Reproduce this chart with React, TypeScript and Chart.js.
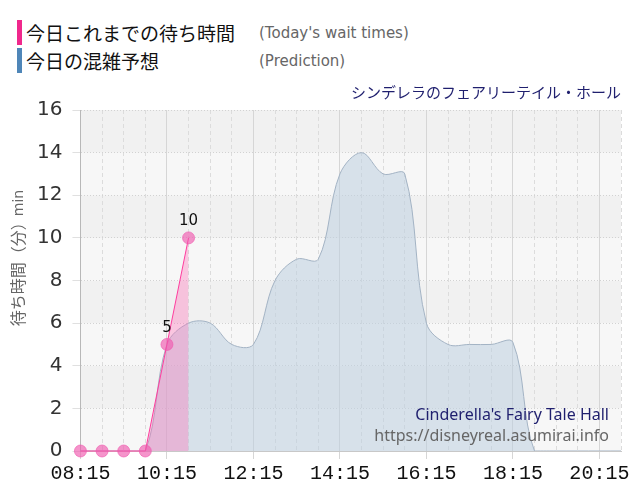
import { useEffect, useRef } from 'react';
import Chart from 'chart.js/auto';

// minutes from midnight
const todayTimes = [495, 525, 555, 585, 615, 645];
const todayWait = [0, 0, 0, 0, 5, 10];

const predTimes = [
  495, 525, 555, 585, 615, 645, 675, 705, 735, 765, 795, 825, 855,
  885, 915, 945, 975, 1005, 1035, 1065, 1095, 1125, 1155, 1185, 1215, 1245,
];
const predWait = [0, 0, 0, 0, 5, 6, 6, 5, 5, 8, 9, 9, 13, 14, 13, 13, 6, 5, 5, 5, 5.1, 0, 0, 0, 0, 0];

const yTicks = [0, 2, 4, 6, 8, 10, 12, 14, 16];

const X_MIN = 495;
const X_MAX = 1245;

const fmt = (m: number) => {
  const h = Math.floor(m / 60);
  const mm = m % 60;
  return String(h).padStart(2, '0') + ':' + String(mm).padStart(2, '0');
};

const bandsPlugin = {
  id: 'bands',
  beforeDraw(chart: any) {
    const { ctx, chartArea, scales } = chart;
    const y = scales.y;
    ctx.save();
    for (let i = 0; i < yTicks.length - 1; i++) {
      const top = y.getPixelForValue(yTicks[i + 1]);
      const bottom = y.getPixelForValue(yTicks[i]);
      ctx.fillStyle = i % 2 === 0 ? '#f7f7f7' : '#f1f1f1';
      ctx.fillRect(chartArea.left, top, chartArea.right - chartArea.left, bottom - top);
    }
    ctx.restore();
  },
};

// y axis title: Japanese part bigger, "min" smaller
const yTitlePlugin = {
  id: 'yTitle',
  afterDraw(chart: any) {
    const { ctx } = chart;
    ctx.save();
    ctx.translate(18, 257);
    ctx.rotate(-Math.PI / 2);
    ctx.textBaseline = 'middle';
    ctx.fillStyle = '#666';
    const main = '待ち時間（分）';
    const unit = 'min';
    ctx.font = '16px "Noto Sans CJK JP"';
    const w1 = ctx.measureText(main).width;
    ctx.font = '14px "DejaVu Sans"';
    const w2 = ctx.measureText(unit).width;
    const start = -(w1 + w2) / 2;
    ctx.textAlign = 'left';
    ctx.font = '16px "Noto Sans CJK JP"';
    ctx.fillText(main, start, 0);
    ctx.font = '14px "DejaVu Sans"';
    ctx.fillText(unit, start + w1 - 2, 1);
    ctx.restore();
  },
};

const labelsPlugin = {
  id: 'pointLabels',
  afterDatasetsDraw(chart: any) {
    const { ctx } = chart;
    const meta = chart.getDatasetMeta(0);
    ctx.save();
    ctx.font = '15px "DejaVu Sans"';
    ctx.fillStyle = '#111';
    ctx.textAlign = 'center';
    ctx.textBaseline = 'bottom';
    meta.data.forEach((pt: any, i: number) => {
      if (todayWait[i] > 0) ctx.fillText(String(todayWait[i]), pt.x, pt.y - 9);
    });
    ctx.restore();
  },
};

const watermarkPlugin = {
  id: 'watermark',
  afterDraw(chart: any) {
    const { ctx, chartArea } = chart;
    ctx.save();
    ctx.textAlign = 'right';
    ctx.textBaseline = 'middle';
    ctx.font = '16px "Noto Sans"';
    ctx.fillStyle = '#1f1f6e';
    ctx.fillText("Cinderella's Fairy Tale Hall", chartArea.right - 12, 415);
    ctx.fillStyle = '#666';
    ctx.fillText('https://disneyreal.asumirai.info', chartArea.right - 12, 436);
    ctx.restore();
  },
};

const WaitChart = () => {
  const chartRef = useRef<HTMLCanvasElement>(null);
  const chartInstance = useRef<Chart | null>(null);

  useEffect(() => {
    if (!chartRef.current) return;
    document.body.style.margin = '0';

    if (chartInstance.current) {
      chartInstance.current.destroy();
    }

    const ctx = chartRef.current.getContext('2d');
    if (!ctx) return;

    chartInstance.current = new Chart(ctx, {
      type: 'line',
      data: {
        datasets: [
          {
            label: '今日これまでの待ち時間',
            data: todayTimes.map((t, i) => ({ x: t, y: todayWait[i] })),
            borderColor: '#ff3d9e',
            borderWidth: 1,
            backgroundColor: 'rgba(255,105,180,0.35)',
            fill: 'origin',
            tension: 0,
            pointRadius: 6,
            pointBackgroundColor: 'rgba(240,90,175,0.65)',
            pointBorderColor: 'rgba(240,90,175,0.65)',
            pointBorderWidth: 1,
            clip: false,
          },
          {
            label: '今日の混雑予想',
            data: predTimes.map((t, i) => ({ x: t, y: predWait[i] })),
            borderColor: '#a3b3c4',
            borderWidth: 1,
            backgroundColor: 'rgba(190,208,224,0.55)',
            fill: 'origin',
            tension: 0.35,
            pointRadius: 0,
          },
        ],
      },
      options: {
        animation: false,
        responsive: true,
        maintainAspectRatio: false,
        layout: { padding: { top: 83, right: 19, left: 27, bottom: 11 } },
        plugins: {
          legend: { display: false },
          tooltip: { enabled: false },
          title: {
            display: true,
            text: 'シンデレラのフェアリーテイル・ホール',
            align: 'end',
            color: '#1f1f6e',
            font: { family: '"Noto Sans CJK JP"', size: 15, weight: 'normal' },
            padding: { top: 0, bottom: 9 },
          },
        },
        scales: {
          x: {
            type: 'linear',
            min: X_MIN,
            max: X_MAX,
            ticks: {
              stepSize: 30,
              autoSkip: false,
              maxRotation: 0,
              padding: 3,
              color: '#111',
              font: { family: '"Liberation Mono"', size: 20 },
              callback: (v: any) => ((v - X_MIN) % 120 === 0 ? fmt(v) : ''),
            },
            grid: {
              color: (c: any) => ((c.tick.value - X_MIN) % 120 === 0 ? '#d6d6d6' : '#dcdcdc'),
              tickColor: (c: any) => ((c.tick.value - X_MIN) % 120 === 0 ? '#d6d6d6' : 'rgba(0,0,0,0)'),
              tickLength: 8,
            },
            border: {
              color: '#c8c8c8',
              dash: (c: any) => (c.tick && (c.tick.value - X_MIN) % 120 !== 0 ? [4, 3] : []),
            },
          },
          y: {
            min: 0,
            max: 16,
            ticks: {
              stepSize: 2,
              padding: 10,
              color: '#333',
              font: { family: '"DejaVu Sans"', size: 20 },
            },
            grid: {
              color: (c: any) => (c.tick.value === 0 ? '#c8c8c8' : '#d2d2d2'),
              tickColor: '#e0e0e0',
              tickLength: 8,
            },
            border: {
              color: '#b8b8b8',
              dash: (c: any) => (c.tick && c.tick.value !== 0 ? [1, 2] : []),
            },
          },
        },
      },
      plugins: [bandsPlugin, labelsPlugin, watermarkPlugin, yTitlePlugin],
    });

    return () => {
      if (chartInstance.current) {
        chartInstance.current.destroy();
        chartInstance.current = null;
      }
    };
  }, []);

  return <canvas ref={chartRef} />;
};

const legendRow = { position: 'absolute' as const, left: 17, height: 25, display: 'flex', alignItems: 'center' };

export default function App() {
  return (
    <div style={{ position: 'relative', width: 640, height: 500, background: '#fff' }}>
      <div style={{ ...legendRow, top: 20 }}>
        <span style={{ width: 5, height: 25, background: '#f0288c', marginRight: 4 }} />
        <span style={{ font: '19px "Noto Sans CJK JP"', color: '#111', width: 233 }}>今日これまでの待ち時間</span>
        <span style={{ font: '15px "DejaVu Sans"', color: '#666' }}>(Today's wait times)</span>
      </div>
      <div style={{ ...legendRow, top: 48 }}>
        <span style={{ width: 5, height: 25, background: '#4f86b8', marginRight: 4 }} />
        <span style={{ font: '19px "Noto Sans CJK JP"', color: '#111', width: 233 }}>今日の混雑予想</span>
        <span style={{ font: '15px "DejaVu Sans"', color: '#666' }}>(Prediction)</span>
      </div>
      <div style={{ position: 'absolute', left: 0, top: 0, width: 640, height: 500 }}>
        <WaitChart />
      </div>
    </div>
  );
}
